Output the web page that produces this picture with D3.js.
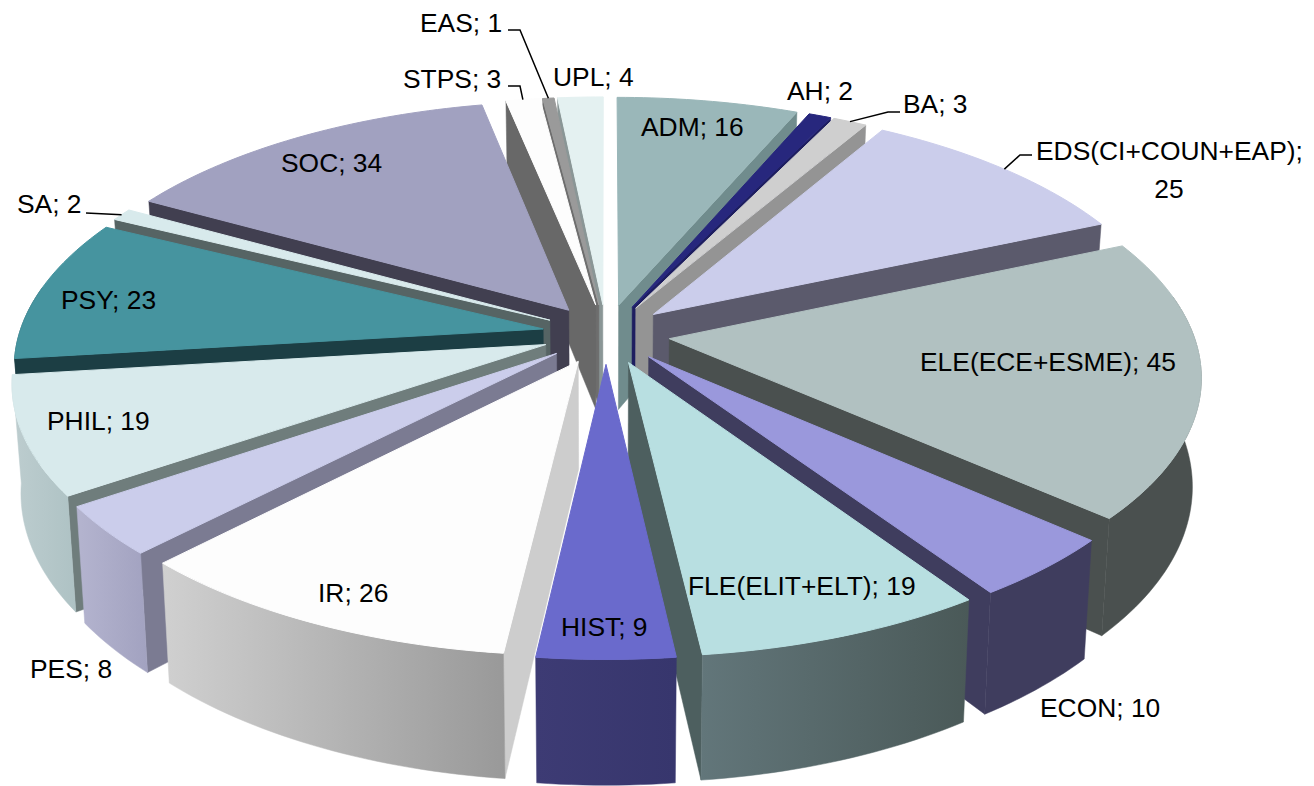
<!DOCTYPE html>
<html>
<head>
<meta charset="utf-8">
<script src="https://cdnjs.cloudflare.com/ajax/libs/d3/7.8.5/d3.min.js"></script>
<style>
    html, body { margin: 0; padding: 0; background: #fff; }
    svg { display: block; }
    text { font-family: "Liberation Sans", Arial, sans-serif; font-size: 26.4px; fill: #000; }
</style>
</head>
<body>
<svg id="chart" width="1314" height="786"></svg>
<script>
const categories = ['ADM', 'AH', 'BA', 'EDS(CI+COUN+EAP)', 'ELE(ECE+ESME)', 'ECON', 'FLE(ELIT+ELT)', 'HIST', 'IR', 'PES', 'PHIL', 'PSY', 'SA', 'SOC', 'STPS', 'EAS', 'UPL'];
const values = [16, 2, 3, 25, 45, 10, 19, 9, 26, 8, 19, 23, 2, 34, 3, 1, 4];

const topColors = ['#9ab7b9', '#27277d', '#cfcfcf', '#cbcdeb', '#b1c1c1', '#9a98dc', '#b8dfe1', '#6a6acc', '#fdfdfd', '#cbcdeb', '#d8eaec', '#46949f', '#d8eaec', '#a1a1c0', '#fdfdfd', '#9a9a9a', '#e4f1f1'];
const cutColors = ['#708c8d', '#1e1e60', '#949494', '#5b5a6c', '#4a504f', '#3f3d5e', '#4d5f5f', '#3b3a73', '#cdcdcd', '#7b7b92', '#6f7d7c', '#1c3e44', '#566464', '#413f50', '#686868', '#6e6e6e', '#8a9696'];
const wallLeft = ['#708c8d', '#1e1e60', '#949494', '#5b5a6c', '#4a504f', '#3f3d5e', '#62767a', '#3d3b74', '#d0d0d0', '#b4b4cf', '#bdcdcf', '#1c3e44', '#566464', '#413f50', '#686868', '#6e6e6e', '#8a9696'];
const wallRight = ['#708c8d', '#1e1e60', '#949494', '#5b5a6c', '#4a504f', '#3f3d5e', '#4a5958', '#37366d', '#999999', '#a2a2c0', '#aec2c4', '#1c3e44', '#566464', '#413f50', '#686868', '#6e6e6e', '#8a9696'];

// label anchors, [x, baseline y]
const labelPos = [[641, 136], [787, 100], [903, 113], [1036, 160], [920, 371], [1040, 717], [688, 595], [561, 636], [318, 602], [30, 678], [47, 430], [61, 309], [17, 213], [281, 172], [403, 88], [420, 32], [553, 86]];
// leader lines: category index and the elbow points next to the label
const leaderCats = [2, 3, 12, 14, 15];
const leaderElbows = [[[900, 112], [888, 112]], [[1032, 155], [1020, 155]], [[86, 213]], [[508, 86], [520, 86]], [[508, 30], [520, 30]]];

const cx = 606;
const cy = 334;
const radiusX = 524;
const radiusY = 244.5;
const tilt = 0.14;
const explode = 0.122;
const depth = 106;
const bottomShrink = 0.985;

const svg = d3.select('#chart');
const defs = svg.append('defs');

const pie = d3.pie().sort(null).value(d => d);
const arcs = pie(values).map((a, i) => {
    const mid = (a.startAngle + a.endAngle) / 2;
    return {
        ...a, i, mid, ox: explode * Math.sin(mid), oy: -explode * Math.cos(mid),
    };
});

const line = d3.line().curve(d3.curveLinearClosed);

// plane point of a slice: r along angle, plus that slice's explosion offset
function plane(d, angle, r) {
    return [d.ox + r * Math.sin(angle), d.oy - r * Math.cos(angle)];
}

function topPoint(d, angle, r) {
    const [u, v] = plane(d, angle, r);
    const s = 1 / (1 - tilt * v);
    return [cx + radiusX * u * s, cy + radiusY * v * s];
}

function bottomPoint(d, angle, r) {
    const [u, v] = plane(d, angle, r);
    const s = 1 / (1 - tilt * v);
    return [cx + radiusX * u * s * bottomShrink, cy + (radiusY * v + depth) * s];
}

function arcAngles(a0, a1) {
    const n = Math.max(2, Math.ceil((a1 - a0) / 0.02));
    return d3.range(n + 1).map(k => a0 + (a1 - a0) * k / n);
}

function drawCut(g, d, angle) {
    g.append('path')
        .attr('d', line([topPoint(d, angle, 0), topPoint(d, angle, 1), bottomPoint(d, angle, 1), bottomPoint(d, angle, 0)]))
        .attr('fill', cutColors[d.i])
        .attr('stroke', cutColors[d.i])
        .attr('stroke-width', 0.5);
}

function drawWall(g, d) {
    const from = Math.max(d.startAngle, 80 * Math.PI / 180);
    const to = Math.min(d.endAngle, 280 * Math.PI / 180);
    if (to <= from) return;
    const angles = arcAngles(from, to);
    const upper = angles.map(a => topPoint(d, a, 1));
    const lower = angles.map(a => bottomPoint(d, a, 1)).reverse();
    const xs = upper.concat(lower).map(p => p[0]);
    const id = `wall${d.i}`;
    const grad = defs.append('linearGradient')
        .attr('id', id)
        .attr('gradientUnits', 'userSpaceOnUse')
        .attr('x1', d3.min(xs))
        .attr('x2', d3.max(xs))
        .attr('y1', 0)
        .attr('y2', 0);
    grad.append('stop').attr('offset', 0).attr('stop-color', wallLeft[d.i]);
    grad.append('stop').attr('offset', 1).attr('stop-color', wallRight[d.i]);
    g.append('path')
        .attr('d', line(upper.concat(lower)))
        .attr('fill', `url(#${id})`)
        .attr('stroke', `url(#${id})`)
        .attr('stroke-width', 0.5);
}

// back slices first so the front ones cover them
const ordered = arcs.slice().sort((a, b) => a.oy - b.oy);
const gSlices = svg.append('g');

ordered.forEach((d) => {
    const g = gSlices.append('g');
    if (Math.sin(d.startAngle) < 0) drawCut(g, d, d.startAngle);
    if (Math.sin(d.endAngle) > 0) drawCut(g, d, d.endAngle);
    drawWall(g, d);
    const outline = [topPoint(d, d.mid, 0)].concat(arcAngles(d.startAngle, d.endAngle).map(a => topPoint(d, a, 1)));
    g.append('path')
        .attr('d', line(outline))
        .attr('fill', topColors[d.i])
        .attr('stroke', topColors[d.i])
        .attr('stroke-width', 1);
});

const leader = d3.line();
svg.append('g')
    .selectAll('path')
    .data(leaderCats)
    .join('path')
    .attr('d', (c, k) => leader(leaderElbows[k].concat([topPoint(arcs[c], arcs[c].mid, 1)])))
    .attr('fill', 'none')
    .attr('stroke', '#000')
    .attr('stroke-width', 1.5);

const gLabels = svg.append('g');
categories.forEach((c, i) => {
    const [x, y] = labelPos[i];
    if (c.startsWith('EDS')) {
        gLabels.append('text').attr('x', x).attr('y', y).text(`${c};`);
        gLabels.append('text').attr('x', x + 133).attr('y', y + 38).attr('text-anchor', 'middle').text(values[i]);
    } else {
        gLabels.append('text').attr('x', x).attr('y', y).text(`${c}; ${values[i]}`);
    }
});
</script>
</body>
</html>
